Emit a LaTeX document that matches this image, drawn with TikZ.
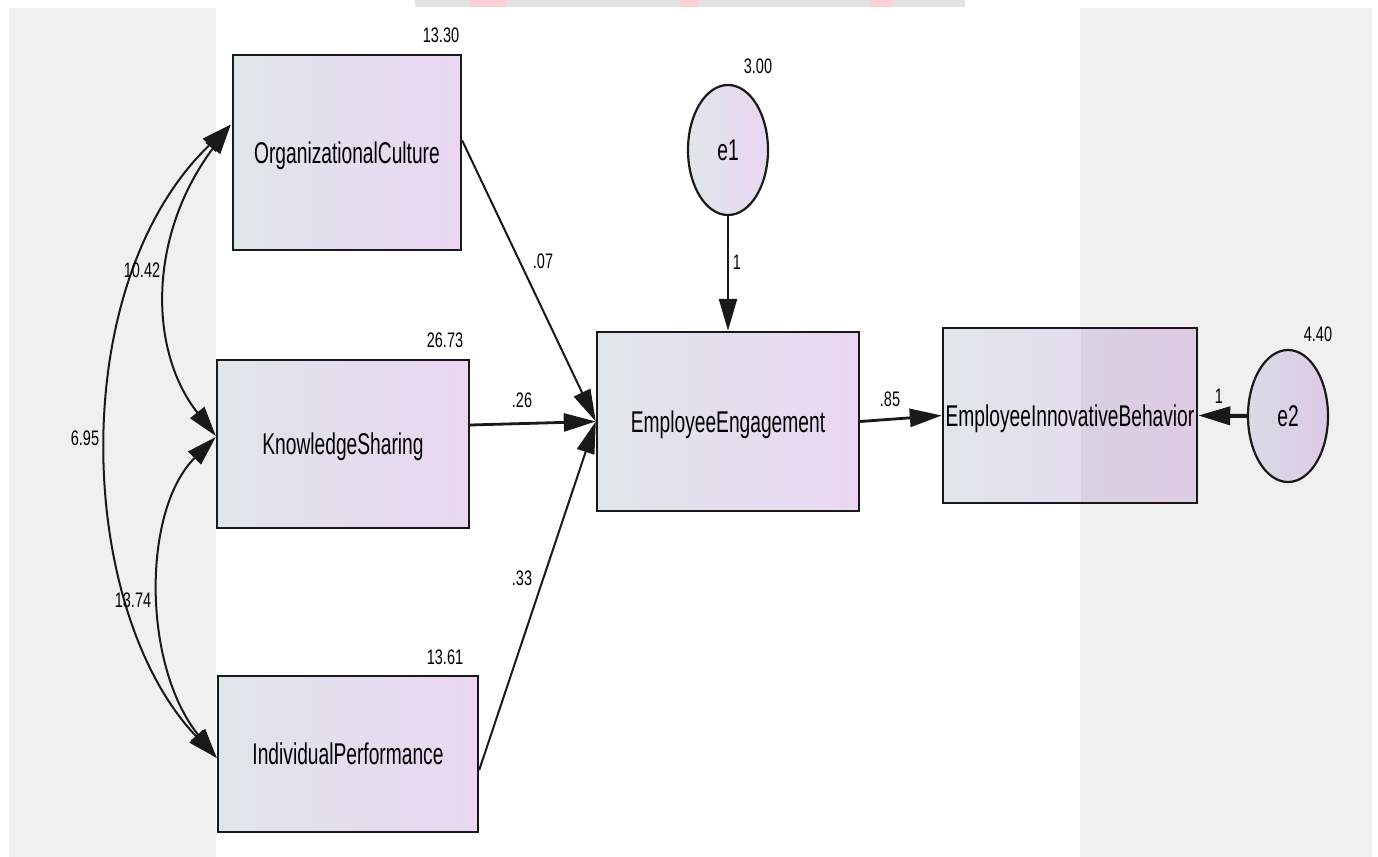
\documentclass[tikz,border=0pt]{standalone}
\usepackage{fontspec}
\setmainfont{Liberation Sans}
\newfontfamily\boxfont{Liberation Sans}[FakeStretch=0.64]
\newfontfamily\numfont{Liberation Sans}[FakeStretch=0.69]
\usetikzlibrary{arrows.meta,calc,shapes.geometric}

\definecolor{bggray}{RGB}{240,240,240}
\definecolor{lblue}{RGB}{223,230,234}
\definecolor{lpurp}{RGB}{234,214,242}
\definecolor{dblue}{RGB}{214,220,230}
\definecolor{dpurp}{RGB}{222,202,230}
\definecolor{edgeblk}{RGB}{25,25,25}
\definecolor{wmgray}{RGB}{226,226,226}
\definecolor{wmred}{RGB}{252,208,212}

\begin{document}
\begin{tikzpicture}[x=0.5pt,y=-0.5pt,
  varbox/.style={draw=edgeblk, line width=1.2pt, left color=lblue, right color=lpurp,
    font=\boxfont\fontsize{15}{18}\selectfont, inner sep=0pt, text depth=0pt},
  errnode/.style={ellipse, draw=edgeblk, line width=1.1pt, left color=lblue, right color=lpurp,
    font=\boxfont\fontsize{15}{18}\selectfont, inner sep=0pt,
    minimum width=40pt, minimum height=65pt},
  num/.style={font=\numfont\fontsize{10.5}{12}\selectfont, inner sep=0pt},
  causal/.style={-{Triangle[length=16pt,width=9pt]}, line width=1pt, draw=edgeblk},
  cov/.style={{Triangle[length=15pt,width=9pt]}-{Triangle[length=15pt,width=9pt]}, line width=1pt, draw=edgeblk},
]
% background
\fill[white] (0,0) rectangle (1378,857);
\fill[bggray] (9,8) rectangle (216,857);
\fill[bggray] (1080,8) rectangle (1372,857);
% watermark remnant at the top
\fill[wmgray] (415,0) rectangle (965,7);
\fill[wmred] (469,0) rectangle (507,7);
\fill[wmred] (680,0) rectangle (699,7);
\fill[wmred] (871,0) rectangle (894,7);
\useasboundingbox (0,0) rectangle (1378,857);

% variables
\node[varbox, minimum width=114pt, minimum height=97.5pt] (OC) at (347,152.5) {OrganizationalCulture};
\node[varbox, minimum width=126pt, minimum height=84pt] (KS) at (343,444) {KnowledgeSharing};
\node[varbox, minimum width=130pt, minimum height=78pt] (IP) at (348,754) {IndividualPerformance};
\node[varbox, minimum width=131pt, minimum height=89.5pt] (EE) at (728,421.5) {EmployeeEngagement};
\node[varbox, minimum width=127pt, minimum height=87.5pt] (EIB) at (1070,415.5) {EmployeeInnovativeBehavior};
\fill[black, opacity=0.05] ($(EIB.north east)+(-117,1)$) rectangle ($(EIB.south east)+(-1,-1)$);
\node[errnode] (e1) at (728,150) {e1};
\node[errnode, left color=dblue, right color=dpurp, minimum height=66pt] (e2) at (1288,416) {e2};

% variance labels
\node[num] (vOC) at (441,35) {13.30};
\node[num] (vKS) at (445,340) {26.73};
\node[num] (vIP) at (445,657) {13.61};
\node[num] (ve1) at (758,66) {3.00};
\node[num] (ve2) at (1318,334) {4.40};

% regression paths
\draw[causal] ($(OC.east)+(0,-12)$) -- (EE.west);
\draw[causal, line width=1.4pt] ($(KS.east)+(0,-19)$) -- (EE.west);
\draw[causal] ($(IP.east)+(0,16)$) -- (EE.west);
\draw[causal, line width=1.2pt] (e1.south) -- (EE.north);
\draw[causal, line width=1.4pt] (EE.east) -- (EIB.west);
\draw[causal, line width=2pt] (e2.west) -- (EIB.east);

\node[num] (w1) at (543,261) {.07};
\node[num] (w2) at (522,400) {.26};
\node[num] (w3) at (522,578) {.33};
\node[num] (w4) at (737,262) {1};
\node[num] (w5) at (890,399) {.85};
\node[num] (w6) at (1219,396) {1};

% covariances
\draw[cov] ($(OC.west)+(-1,-28)$) .. controls (148,235) and (148,350) .. ($(KS.west)+(0,-8)$);
\draw[cov] ($(KS.west)+(0,-7)$) .. controls (142,510) and (142,665) .. ($(IP.west)+(0,4)$);
\draw[cov] ($(OC.west)+(-1,-28)$) .. controls (64,285) and (76,610) .. ($(IP.west)+(0,4)$);

\node[num] (c1) at (142,270) {10.42};
\node[num] (c2) at (85,438) {6.95};
\node[num] (c3) at (133,600) {13.74};
\end{tikzpicture}
\end{document}
